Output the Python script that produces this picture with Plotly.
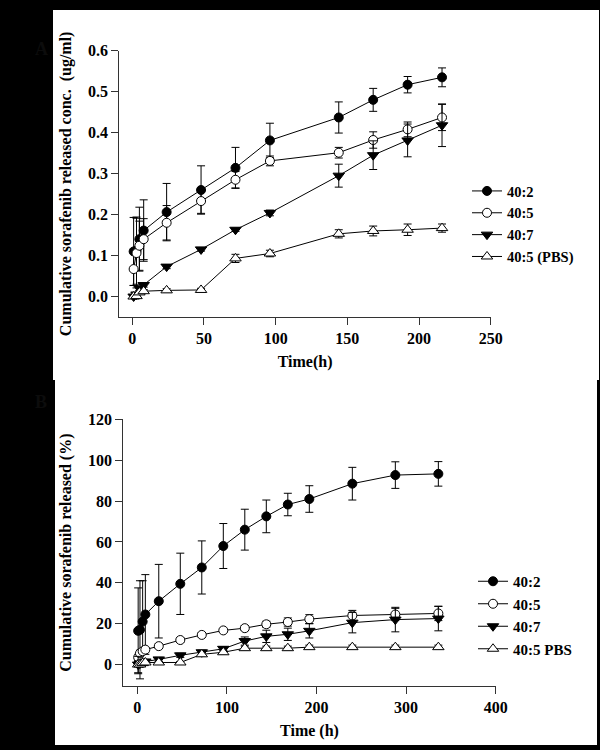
import plotly.graph_objects as go

# ---- data ----
# panel A: concentration (ug/ml)
time_a = [1, 3, 5, 8, 24, 48, 72, 96, 144, 168, 192, 216]
conc_40_2 = [0.110, 0.112, 0.140, 0.161, 0.206, 0.260, 0.314, 0.381, 0.437, 0.480, 0.517, 0.535]
conc_40_2_err = [0.083, 0.082, 0.078, 0.075, 0.070, 0.059, 0.050, 0.042, 0.038, 0.028, 0.020, 0.023]
conc_40_5 = [0.067, 0.106, 0.124, 0.140, 0.180, 0.233, 0.285, 0.331, 0.351, 0.382, 0.408, 0.437]
conc_40_5_err = [0.040, 0.085, 0.060, 0.050, 0.042, 0.030, 0.020, 0.012, 0.013, 0.020, 0.018, 0.032]
conc_40_7 = [0.000, 0.005, 0.020, 0.028, 0.073, 0.115, 0.163, 0.204, 0.295, 0.345, 0.381, 0.418]
conc_40_7_err = [0.003, 0.003, 0.005, 0.005, 0.005, 0.004, 0.004, 0.007, 0.028, 0.035, 0.040, 0.052]
conc_pbs = [0.000, 0.001, 0.010, 0.013, 0.015, 0.016, 0.093, 0.105, 0.153, 0.160, 0.163, 0.167]
conc_pbs_err = [0.003, 0.003, 0.004, 0.004, 0.004, 0.004, 0.010, 0.008, 0.010, 0.012, 0.014, 0.010]

# panel B: cumulative release (%)
time_b = [1, 3, 6, 9, 24, 48, 72, 96, 120, 144, 168, 192, 240, 288, 336]
pct_40_2 = [16.5, 17, 21, 24.5, 31, 39.5, 47.5, 58, 66, 72.5, 78.3, 81, 88.5, 92.7, 93.3]
pct_40_2_err = [21, 24, 20, 19.5, 18, 15, 13, 11, 10, 8, 5.5, 6.5, 8, 6.5, 6]
pct_40_5 = [3.5, 5.5, 6.5, 7.3, 9, 12, 14.5, 16.7, 17.8, 19.7, 20.8, 22.2, 24, 24.5, 25]
pct_40_5_err = [1.5, 1.5, 1.0, 1.0, 1.0, 1.0, 1.0, 1.0, 1.2, 1.5, 2, 2.2, 2.5, 3, 3.5]
pct_40_7 = [0, 0.5, 1, 1.5, 2.5, 4.5, 6, 7.7, 11.5, 13.8, 14.8, 16.5, 20.5, 22, 22.5]
pct_40_7_err = [4, 1, 1, 1, 1, 1, 1, 1, 2, 3, 3, 3.5, 5, 6, 6]
pct_pbs = [0, 0, 0.7, 1, 1, 1, 5, 6, 8, 8, 8, 8.5, 8.5, 8.5, 8.5]
pct_pbs_err = [0.5, 0.5, 0.5, 0.5, 0.5, 0.5, 1, 1, 1, 1, 1, 1, 1, 1, 1]

names_a = ["40:2", "40:5", "40:7", "40:5 (PBS)"]
names_b = ["40:2", "40:5", "40:7", "40:5 PBS"]

FONT = "Liberation Serif, Times New Roman, serif"
W, H = 600, 750

# marker styles: filled circle, open circle, filled down-triangle, open up-triangle
styles = [
    dict(symbol="circle", color="black", size=9),
    dict(symbol="circle", color="white", size=9),
    dict(symbol="triangle-down", color="black", size=10),
    dict(symbol="triangle-up", color="white", size=10),
]

fig = go.Figure()

series_a = [(conc_40_2, conc_40_2_err), (conc_40_5, conc_40_5_err),
            (conc_40_7, conc_40_7_err), (conc_pbs, conc_pbs_err)]
series_b = [(pct_40_2, pct_40_2_err), (pct_40_5, pct_40_5_err),
            (pct_40_7, pct_40_7_err), (pct_pbs, pct_pbs_err)]

for (y, err), name, st in zip(series_a, names_a, styles):
    fig.add_trace(go.Scatter(
        x=time_a, y=y, name=name, mode="lines+markers",
        line=dict(color="black", width=1),
        marker=dict(symbol=st["symbol"], size=st["size"], color=st["color"],
                    line=dict(color="black", width=1)),
        error_y=dict(type="data", array=err, color="black", thickness=1, width=4),
        xaxis="x", yaxis="y", legend="legend",
    ))

for (y, err), name, st in zip(series_b, names_b, styles):
    fig.add_trace(go.Scatter(
        x=time_b, y=y, name=name, mode="lines+markers",
        line=dict(color="black", width=1),
        marker=dict(symbol=st["symbol"], size=st["size"], color=st["color"],
                    line=dict(color="black", width=1)),
        error_y=dict(type="data", array=err, color="black", thickness=1, width=4),
        xaxis="x2", yaxis="y2", legend="legend2",
    ))

tickfont = dict(family=FONT, size=16, color="black", weight="bold")
titlefont = dict(family=FONT, size=16, color="black", weight="bold")
axis_common = dict(showline=True, linecolor="#333", linewidth=1, ticks="outside",
                   ticklen=7, tickcolor="#333", tickwidth=1, showgrid=False,
                   zeroline=False, tickfont=tickfont, automargin=False)

fig.update_layout(
    width=W, height=H,
    margin=dict(l=0, r=0, t=0, b=0),
    paper_bgcolor="black", plot_bgcolor="white",
    font=dict(family=FONT, color="black"),
    xaxis=dict(domain=[119.3 / W, 490.8 / W], anchor="y", range=[-9, 250],
               tickvals=[0, 50, 100, 150, 200, 250],
               title=dict(text="Time(h)", font=titlefont, standoff=9), **axis_common),
    yaxis=dict(domain=[1 - 317 / H, 1 - 50.7 / H], anchor="x", range=[-0.05, 0.6],
               tickvals=[0, 0.1, 0.2, 0.3, 0.4, 0.5, 0.6], tickformat=".1f",
               title=dict(text="Cumulative sorafenib released conc.  (ug/ml)",
                          font=titlefont, standoff=12), **axis_common),
    xaxis2=dict(domain=[123.3 / W, 495.7 / W], anchor="y2", range=[-15.6, 400],
                tickvals=[0, 100, 200, 300, 400],
                title=dict(text="Time (h)", font=titlefont, standoff=9), **axis_common),
    yaxis2=dict(domain=[1 - 686 / H, 1 - 419.3 / H], anchor="x2", range=[-10.5, 120],
                tickvals=[0, 20, 40, 60, 80, 100, 120],
                title=dict(text="Cumulative sorafenib released (%)",
                           font=titlefont, standoff=12), **axis_common),
    legend=dict(x=467 / W, y=1 - 175 / H, xanchor="left", yanchor="top",
                bgcolor="rgba(0,0,0,0)", tracegroupgap=0,
                font=dict(family=FONT, size=14.5, color="black", weight="bold")),
    legend2=dict(x=473 / W, y=1 - 565 / H, xanchor="left", yanchor="top",
                 bgcolor="rgba(0,0,0,0)", tracegroupgap=0,
                 font=dict(family=FONT, size=15, color="black", weight="bold")),
    shapes=[
        # white panels on the black page
        dict(type="rect", xref="paper", yref="paper", layer="below",
             x0=53 / W, x1=599 / W, y0=1 - 380 / H, y1=1 - 10 / H,
             fillcolor="white", line=dict(width=0)),
        dict(type="rect", xref="paper", yref="paper", layer="below",
             x0=55 / W, x1=597 / W, y0=1 - 745 / H, y1=1 - 380 / H,
             fillcolor="white", line=dict(width=0)),
    ],
    annotations=[
        dict(text="A", x=33 / W, y=1 - 37 / H, xref="paper", yref="paper",
             showarrow=False, font=dict(family=FONT, size=18, color="#0c0c0c", weight="bold")),
        dict(text="B", x=33 / W, y=1 - 402 / H, xref="paper", yref="paper",
             showarrow=False, font=dict(family=FONT, size=18, color="#0c0c0c", weight="bold")),
    ],
)

# the page's default body margin would shift the figure by 8px
fig.write_html("out.html", config={"displayModeBar": False},
               post_script="document.body.style.margin = '0';")
